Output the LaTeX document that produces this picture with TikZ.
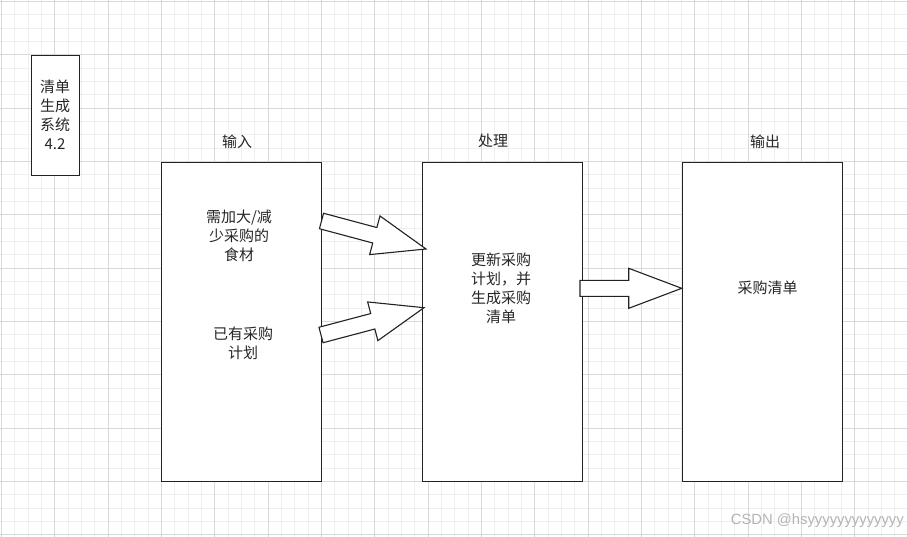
\documentclass[tikz,border=0pt]{standalone}
\usepackage{fontspec}
\setmainfont{Noto Sans CJK SC}
\newfontfamily\wmfont{Liberation Sans}
\usetikzlibrary{calc}
\definecolor{gridmajor}{HTML}{D9D9D9}
\definecolor{gridminor}{HTML}{EFEFEF}
\definecolor{strokec}{HTML}{222222}
\definecolor{wmark}{HTML}{B4B4B4}
\tikzset{
  minorline/.style={gridminor, line width=0.8pt},
  majorline/.style={gridmajor, line width=1pt},
  boxnode/.style={draw=strokec, fill=white, line width=1.1pt, inner sep=0pt, anchor=north west},
  txt/.style={font=\fontsize{15}{19}\selectfont, align=center, text=black!85, inner sep=0pt},
  blockarrow/.style={draw=strokec, fill=white, line width=1.1pt, line join=miter},
}
\newcommand{\blockarrowdraw}[2]{%
  \coordinate (#1#2h) at ($(#2)!53pt!(#1)$);
  \draw[blockarrow]
    ($(#1)!8pt!90:(#2)$) -- ($(#1#2h)!8pt!90:(#2)$) -- ($(#1#2h)!20pt!90:(#2)$)
    -- (#2) -- ($(#1#2h)!20pt!-90:(#2)$) -- ($(#1#2h)!8pt!-90:(#2)$)
    -- ($(#1)!8pt!-90:(#2)$) -- cycle;
}
\begin{document}
\begin{tikzpicture}[x=1pt, y=-1pt]
\useasboundingbox (0,0) rectangle (907,537);
\fill[white] (0,0) rectangle (907,537);
% grid
\foreach \i in {0,...,68} {
  \pgfmathsetmacro{\xx}{1.5+13.3333*\i}
  \draw[minorline] (\xx,0) -- (\xx,537);
}
\foreach \i in {0,...,40} {
  \pgfmathsetmacro{\yy}{1.5+13.3333*\i}
  \draw[minorline] (0,\yy) -- (907,\yy);
}
\foreach \i in {0,...,17} {
  \pgfmathsetmacro{\xx}{1.5+53.3333*\i}
  \draw[majorline] (\xx,0) -- (\xx,537);
}
\foreach \i in {0,...,10} {
  \pgfmathsetmacro{\yy}{1.5+53.3333*\i}
  \draw[majorline] (0,\yy) -- (907,\yy);
}
% boxes
\node[boxnode, minimum width=48pt, minimum height=120pt] (sys) at (31,55) {};
\node[boxnode, minimum width=160pt, minimum height=319pt] (inbox) at (161,162) {};
\node[boxnode, minimum width=160pt, minimum height=319pt] (procbox) at (422,162) {};
\node[boxnode, minimum width=160pt, minimum height=319pt] (outbox) at (682,162) {};
% texts
\node[txt] (systxt) at (55,115) {清单\\生成\\系统\\4.2};
\node[txt] (inlabel) at (237,141.5) {输入};
\node[txt] (proclabel) at (493,141) {处理};
\node[txt] (outlabel) at (765,141.5) {输出};
\node[txt] (intxt1) at (239,236) {需加大/减\\少采购的\\食材};
\node[txt] (intxt2) at (243,343) {已有采购\\计划};
\node[txt] (proctxt) at (501,288.5) {更新采购\\计划，并\\生成采购\\清单};
\node[txt] (outtxt) at (767.5,288) {采购清单};
% arrows
\coordinate (a1s) at (321.5,221);
\coordinate (a1e) at (426,249);
\coordinate (a2s) at (321,335);
\coordinate (a2e) at (424,307.7);
\coordinate (a3s) at (580,288.3);
\coordinate (a3e) at (681.7,288.3);
\blockarrowdraw{a1s}{a1e}
\blockarrowdraw{a2s}{a2e}
\blockarrowdraw{a3s}{a3e}
% watermark
\node[font=\wmfont\fontsize{14.8}{16}\selectfont, text=wmark, inner sep=0pt, anchor=east] (wm) at (904,521) {CSDN @hsyyyyyyyyyyyyy};
\end{tikzpicture}
\end{document}
